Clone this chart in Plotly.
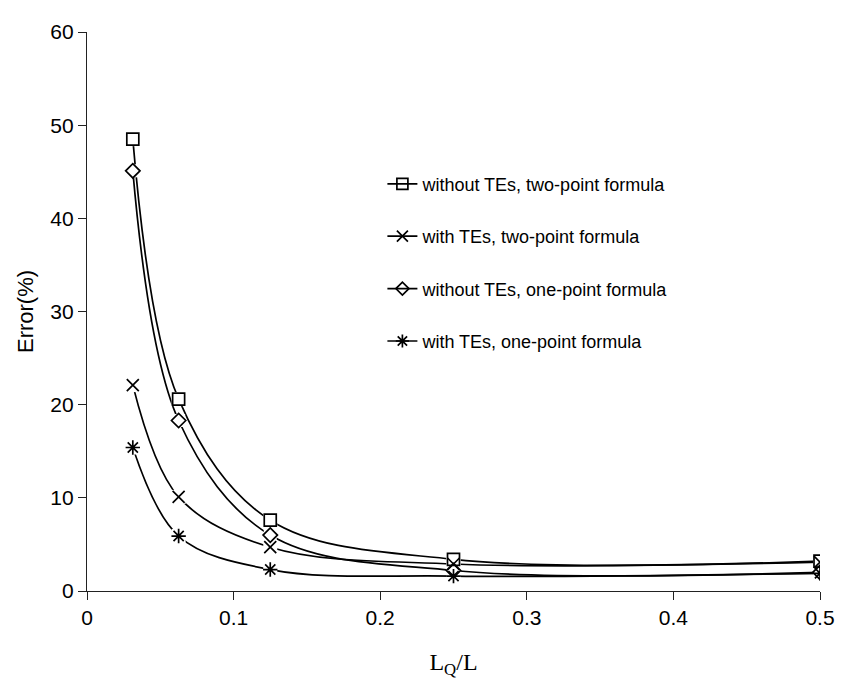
import plotly.graph_objects as go

x_vals = [0.03125, 0.0625, 0.125, 0.25, 0.5]
wo_two = [48.5, 20.6, 7.6, 3.4, 3.2]
w_two = [22.1, 10.1, 4.7, 2.9, 3.1]
wo_one = [45.1, 18.3, 6.0, 2.2, 2.0]
w_one = [15.4, 5.9, 2.3, 1.6, 1.9]

names = ["without TEs, two-point formula", "with TEs, two-point formula",
         "without TEs, one-point formula", "with TEs, one-point formula"]
series = [wo_two, w_two, wo_one, w_one]
symbols = ["square-open", "x-thin-open", "diamond-open", "asterisk-open"]
sizes = [12, 12, 11, 12]

x_ticks = [0, 0.1, 0.2, 0.3, 0.4, 0.5]
y_ticks = [0, 10, 20, 30, 40, 50, 60]

fig = go.Figure()
for i, (nm, ys) in enumerate(zip(names, series)):
    fig.add_trace(go.Scatter(x=x_vals, y=ys, mode="lines",
                             line=dict(color="black", width=1.7, shape="spline", smoothing=1.0),
                             showlegend=False, hoverinfo="skip"))
for i, (nm, ys) in enumerate(zip(names, series)):
    fig.add_trace(go.Scatter(x=x_vals, y=ys, mode="markers",
                             marker=dict(symbol="square", size=sizes[i] + 2, color="white",
                                         line=dict(width=0)),
                             showlegend=False, hoverinfo="skip"))
for i, (nm, ys) in enumerate(zip(names, series)):
    fig.add_trace(go.Scatter(x=x_vals, y=ys, mode="markers",
                             marker=dict(symbol=symbols[i], size=sizes[i], color="black",
                                         line=dict(color="black", width=1.7)),
                             showlegend=False))
for i, nm in enumerate(names):
    fig.add_trace(go.Scatter(x=[None], y=[None], mode="lines+markers", name=nm,
                             legendgroup=f"g{i}",
                             line=dict(color="black", width=1.7),
                             marker=dict(symbol=symbols[i], size=sizes[i] - 1, color="black",
                                         line=dict(color="black", width=1.7))))

fig.update_layout(
    width=839, height=678,
    margin=dict(l=79, r=19, t=13, b=95),
    paper_bgcolor="white", plot_bgcolor="white",
    font=dict(family="Liberation Sans, Arial", size=20, color="black"),
    legend=dict(x=0.403, y=0.761, xanchor="left", yanchor="top",
                bgcolor="rgba(0,0,0,0)", borderwidth=0,
                font=dict(size=18), tracegroupgap=26, traceorder="grouped",
                itemwidth=30),
    xaxis=dict(range=[0, 0.5], tickvals=x_ticks, ticktext=[str(v) for v in x_ticks],
               showgrid=False, zeroline=False, showline=True, linecolor="#222", linewidth=1.2,
               ticks="outside", ticklen=8, tickcolor="#222",
               title=dict(text="L<sub>Q</sub>/L", font=dict(family="Liberation Serif, Times New Roman", size=24),
                          standoff=24),
               tickfont=dict(size=21)),
    yaxis=dict(range=[0, 60], tickvals=y_ticks,
               showgrid=False, zeroline=False, showline=True, linecolor="#222", linewidth=1.2,
               ticks="outside", ticklen=8, tickcolor="#222",
               title=dict(text="Error(%)", font=dict(size=22), standoff=10),
               tickfont=dict(size=21)),
)

fig.write_html("out.html")
